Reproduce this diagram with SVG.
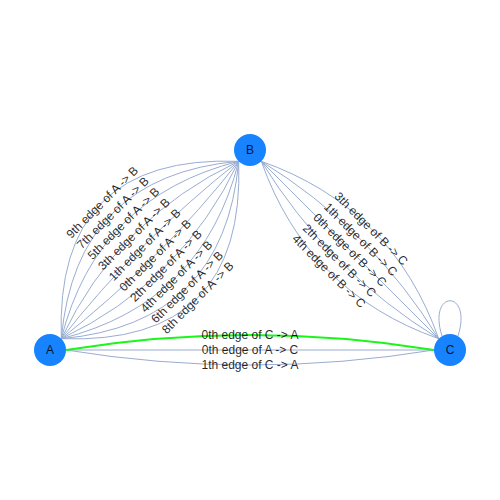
<svg xmlns="http://www.w3.org/2000/svg" width="500" height="500" viewBox="0 0 500 500">
<style>
.e{fill:none;stroke:#99ADD1;stroke-width:1}
.g{fill:none;stroke:#1AF51A;stroke-width:2.2}
.l{font-family:"Liberation Sans",Arial,sans-serif;font-size:12px;fill:#000;fill-opacity:0.85;text-anchor:middle;dominant-baseline:central}
.n{fill:#1783FF}
.nl{font-family:"Liberation Sans",Arial,sans-serif;font-size:12px;fill:#000;fill-opacity:0.85;text-anchor:middle;dominant-baseline:central}
</style>
<rect width="500" height="500" fill="#fff"/>
<g id="connectors">
<!-- A -> B -->
<path class="e" d="M61.31,338.69 Q139.39,239.39 238.69,161.31"/>
<path class="e" d="M61.31,338.69 Q118.18,218.18 238.69,161.31"/>
<path class="e" d="M61.31,338.69 Q96.97,196.97 238.69,161.31"/>
<path class="e" d="M61.31,338.69 Q75.75,175.75 238.69,161.31"/>
<path class="e" d="M61.31,338.69 Q54.54,154.54 238.69,161.31"/>
<path class="e" d="M61.31,338.69 Q160.61,260.61 238.69,161.31"/>
<path class="e" d="M61.31,338.69 Q181.82,281.82 238.69,161.31"/>
<path class="e" d="M61.31,338.69 Q203.03,303.03 238.69,161.31"/>
<path class="e" d="M61.31,338.69 Q224.25,324.25 238.69,161.31"/>
<path class="e" d="M61.31,338.69 Q245.46,345.46 238.69,161.31"/>
<!-- B -> C -->
<path class="e" d="M261.31,161.31 L438.69,338.69"/>
<path class="e" d="M261.31,161.31 Q371.21,228.79 438.69,338.69"/>
<path class="e" d="M261.31,161.31 Q392.43,207.57 438.69,338.69"/>
<path class="e" d="M261.31,161.31 Q328.79,271.21 438.69,338.69"/>
<path class="e" d="M261.31,161.31 Q307.57,292.43 438.69,338.69"/>
<!-- A - C -->
<path class="e" d="M66,350 L434,350"/>
<path class="e" d="M434,350 Q250,380 66,350"/>
<path class="g" d="M434,350 Q250,320 66,350"/>
<!-- C self loop -->
<path class="e" d="M442,336 C427,289 473,289 458,336"/>
<!-- edge labels -->
<text class="l" transform="translate(155.30,255.30) rotate(-45)">0th edge of A -&gt; B</text>
<text class="l" transform="translate(144.70,244.70) rotate(-45)">1th edge of A -&gt; B</text>
<text class="l" transform="translate(165.91,265.91) rotate(-45)">2th edge of A -&gt; B</text>
<text class="l" transform="translate(134.09,234.09) rotate(-45)">3th edge of A -&gt; B</text>
<text class="l" transform="translate(176.52,276.52) rotate(-45)">4th edge of A -&gt; B</text>
<text class="l" transform="translate(123.48,223.48) rotate(-45)">5th edge of A -&gt; B</text>
<text class="l" transform="translate(187.12,287.12) rotate(-45)">6th edge of A -&gt; B</text>
<text class="l" transform="translate(112.88,212.88) rotate(-45)">7th edge of A -&gt; B</text>
<text class="l" transform="translate(197.73,297.73) rotate(-45)">8th edge of A -&gt; B</text>
<text class="l" transform="translate(102.27,202.27) rotate(-45)">9th edge of A -&gt; B</text>
<text class="l" transform="translate(350,250) rotate(45)">0th edge of B -&gt; C</text>
<text class="l" transform="translate(360.61,239.39) rotate(45)">1th edge of B -&gt; C</text>
<text class="l" transform="translate(339.39,260.61) rotate(45)">2th edge of B -&gt; C</text>
<text class="l" transform="translate(371.21,228.79) rotate(45)">3th edge of B -&gt; C</text>
<text class="l" transform="translate(328.79,271.21) rotate(45)">4th edge of B -&gt; C</text>
<text class="l" x="250" y="350">0th edge of A -&gt; C</text>
<text class="l" x="250" y="335">0th edge of C -&gt; A</text>
<text class="l" x="250" y="365">1th edge of C -&gt; A</text>
</g>
<g id="node-A"><circle class="n" cx="50" cy="350" r="16"/><text class="nl" x="50" y="350">A</text></g>
<g id="node-B"><circle class="n" cx="250" cy="150" r="16"/><text class="nl" x="250" y="150">B</text></g>
<g id="node-C"><circle class="n" cx="450" cy="350" r="16"/><text class="nl" x="450" y="350">C</text></g>
</svg>
